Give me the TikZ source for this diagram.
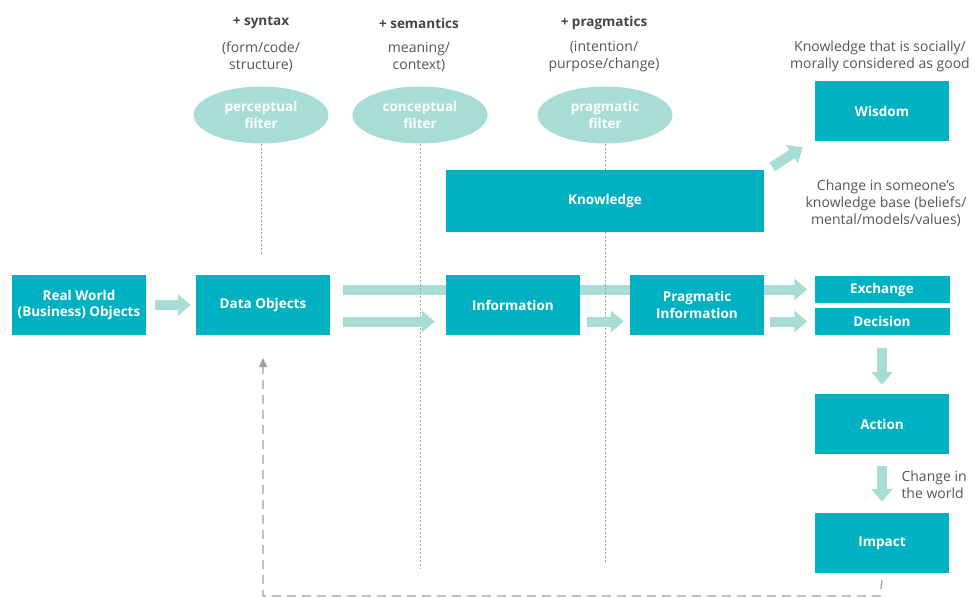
\documentclass[tikz,border=0pt]{standalone}
\usepackage{fontspec}
\setmainfont{Open Sans}
\usetikzlibrary{shapes.geometric,arrows.meta,backgrounds}
\definecolor{boxteal}{RGB}{0,178,193}
\definecolor{mint}{RGB}{167,221,213}
\definecolor{txtgray}{RGB}{85,85,85}
\definecolor{linegray}{RGB}{160,160,160}

\begin{document}
\begin{tikzpicture}[x=1pt,y=-1pt,
	box/.style={fill=boxteal, text=white, font=\bfseries\fontsize{13.5}{16.5}\selectfont, align=center, minimum width=134pt, minimum height=60pt, inner sep=0pt},
	filter/.style={ellipse, fill=mint, text=white, font=\bfseries\fontsize{13.5}{16.5}\selectfont, align=center, minimum width=135pt, minimum height=57pt, inner sep=0pt},
	note/.style={text=txtgray, font=\fontsize{14}{17}\selectfont, align=center},
	head/.style={text=txtgray!80!black, font=\bfseries\fontsize{13.5}{16}\selectfont},
	flow/.style={draw=mint, line width=10pt, -{Triangle[length=13pt,width=21pt]}},
	bar/.style={draw=mint, line width=10pt},
	cut/.style={draw=linegray, line width=0.8pt, dash pattern=on 2pt off 2pt},
	back/.style={draw=linegray, line width=1.2pt, dash pattern=on 9pt off 6pt, -{Triangle[length=9pt,width=8pt]}}]
	\useasboundingbox (0,0) rectangle (979,597);

	% headings
	\node[head] (syn) at (261,23) {+ syntax};
	\node[note] (syntxt) at (261,57) {(form/code/\\structure)};
	\node[head] (sem) at (419,23) {+ semantics};
	\node[note] (semtxt) at (419,57) {meaning/\\context)};
	\node[head] (prg) at (604,23) {+ pragmatics};
	\node[note] (prgtxt) at (604,57) {(intention/\\purpose/change)};

	\node[filter] (perc) at (261,115) {perceptual\\filter};
	\node[filter] (conc) at (420,115) {conceptual\\filter};
	\node[filter] (pfil) at (605,115) {pragmatic\\filter};

	% boxes
	\node[box] (real) at (79,305) {Real World\\(Business) Objects};
	\node[box] (data) at (263,305) {Data Objects};
	\node[box] (info) at (513,305) {Information};
	\node[box] (prag) at (697,305) {Pragmatic\\Information};
	\node[box, minimum width=135pt, minimum height=27pt] (exch) at (882,289.5) {Exchange};
	\node[box, minimum width=135pt, minimum height=27pt] (deci) at (882,321.5) {Decision};
	\node[box, minimum width=318pt, minimum height=62pt] (know) at (605,201) {Knowledge};
	\node[box] (wis) at (882,111) {Wisdom};
	\node[box] (act) at (882,424) {Action};
	\node[box] (imp) at (882,543) {Impact};

	% side notes
	\node[note] (wisnote) at (880,56) {Knowledge that is socially/\\morally considered as good};
	\node[note] (knownote) at (886,203) {Change in someone’s\\knowledge base (beliefs/\\mental/models/values)};
	\node[note, anchor=west, align=left] (worldnote) at (898,485) {Change in\\the world};

	\coordinate (cut1) at (261,255);
	\coordinate (cut2) at (420,568);
	\coordinate (cut3) at (605,563);
	\coordinate (fb1) at (880,596);
	\coordinate (fb2) at (263,596);
	\coordinate (fb3) at (263,358);

	\begin{scope}[on background layer]
		\draw[bar] ([xshift=13pt]data.east |- exch) -- (prag.west |- exch);
		\draw[cut] (perc.south) -- (cut1);
		\draw[cut] (conc.south) -- (cut2);
		\draw[cut] (pfil.south) -- (cut3);
	\end{scope}

	% arrows
	\draw[flow] ([xshift=9pt]real.east) -- ([xshift=-5pt]data.west);
	\draw[flow] ([xshift=13pt]data.east |- deci) -- ([xshift=-11pt]info.west |- deci);
	\draw[flow] ([xshift=7pt]info.east |- deci) -- ([xshift=-6pt]prag.west |- deci);
	\draw[flow] (prag.east |- exch) -- ([xshift=-7pt]exch.west);
	\draw[flow] ([xshift=6pt]prag.east |- deci) -- ([xshift=-7pt]deci.west);
	\draw[flow] ([yshift=-13pt]deci.south) -- ([yshift=9pt]act.north);
	\draw[flow] ([yshift=-12pt]act.south) -- ([yshift=11pt]imp.north);
	\draw[flow] ([xshift=8pt,yshift=3pt]know.north east) -- ([xshift=-12pt,yshift=-6pt]wis.south west);

	\draw[back] ([yshift=-7pt]imp.south) -- (fb1) -- (fb2) -- (fb3);
\end{tikzpicture}
\end{document}
